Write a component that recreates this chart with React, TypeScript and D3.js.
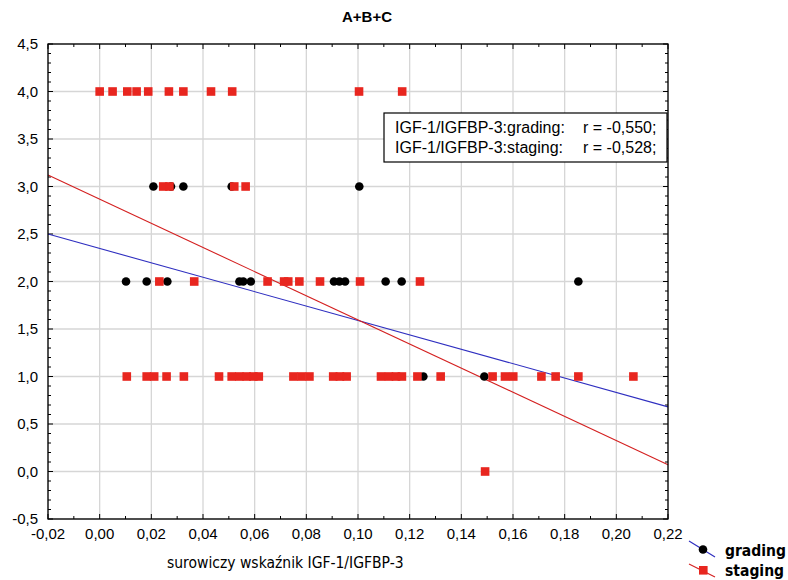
import React from "react";
import * as d3 from "d3";

const title = "A+B+C";
const xTitle = "surowiczy wskaźnik IGF-1/IGFBP-3";
const corrLabels = ["IGF-1/IGFBP-3:grading:", "IGF-1/IGFBP-3:staging:"];
const corrValues = ["r = -0,550;", "r = -0,528;"];
const seriesNames = ["grading", "staging"];

const xTicks = [-0.02, 0, 0.02, 0.04, 0.06, 0.08, 0.1, 0.12, 0.14, 0.16, 0.18, 0.2, 0.22];
const yTicks = [-0.5, 0, 0.5, 1, 1.5, 2, 2.5, 3, 3.5, 4, 4.5];

const gradingX = [
  0.0208, 0.0276, 0.0324, 0.0511, 0.1005,
  0.0102, 0.0182, 0.0262, 0.0541, 0.0556, 0.0585, 0.0907, 0.0928, 0.095, 0.1107, 0.1169, 0.1853,
  0.1253, 0.1489,
];
const gradingY = [
  3, 3, 3, 3, 3,
  2, 2, 2, 2, 2, 2, 2, 2, 2, 2, 2, 2,
  1, 1,
];

const stagingX = [
  0.0, 0.005, 0.0107, 0.0143, 0.0188, 0.0268, 0.0324, 0.0431, 0.0513, 0.1004, 0.1171,
  0.0246, 0.027, 0.0521, 0.0565,
  0.0231, 0.0366, 0.065, 0.0714, 0.073, 0.0773, 0.0853, 0.1008, 0.124,
  0.0105, 0.0182, 0.0211, 0.0259, 0.0326, 0.0462, 0.0511, 0.0541, 0.0569, 0.0595, 0.0616,
  0.075, 0.0781, 0.0812, 0.0904, 0.093, 0.0956, 0.1089, 0.112, 0.1147, 0.117, 0.123,
  0.132, 0.1521, 0.1569, 0.1601, 0.171, 0.1765, 0.1853, 0.2066,
  0.1492,
];
const stagingY = [
  4, 4, 4, 4, 4, 4, 4, 4, 4, 4, 4,
  3, 3, 3, 3,
  2, 2, 2, 2, 2, 2, 2, 2, 2,
  1, 1, 1, 1, 1, 1, 1, 1, 1, 1, 1,
  1, 1, 1, 1, 1, 1, 1, 1, 1, 1, 1,
  1, 1, 1, 1, 1, 1, 1, 1,
  0,
];

// regression lines: [intercept at x=0, slope]
const gradingFit = [2.348, -7.58];
const stagingFit = [2.866, -12.7];

const W = 788;
const H = 580;
const M = { left: 48, right: 668, top: 44, bottom: 519 };
const FONT = "'Liberation Sans', Arial, sans-serif";
const COND = "'DejaVu Sans Condensed', 'DejaVu Sans', sans-serif";
const RED = "#e8261f";

export default function App() {
  const x = d3.scaleLinear().domain([-0.02, 0.22]).range([M.left, M.right]);
  const y = d3.scaleLinear().domain([-0.5, 4.5]).range([M.bottom, M.top]);
  const fmt = (v: number, d: number) => d3.format(`.${d}f`)(v).replace(".", ",").replace("−", "-");

  const xMinor = d3.range(-0.02, 0.2201, 0.01);
  const yMinor = d3.range(-0.5, 4.501, 0.1);

  const fitLine = (fit: number[]) =>
    d3.line<number>()
      .x((d) => x(d))
      .y((d) => y(fit[0] + fit[1] * d))([-0.02, 0.22]) as string;

  return (
    <svg width={W} height={H} style={{ position: "absolute", left: 0, top: 0, background: "#fff" }}>
      <rect width={W} height={H} fill="#fff" />
      <text x={367} y={22} textAnchor="middle" fontFamily={FONT} fontWeight="bold" fontSize={15}>
        {title}
      </text>
      {/* grid */}
      {xTicks.map((t, i) => (
        <line key={"gx" + i} x1={x(t)} x2={x(t)} y1={M.top} y2={M.bottom} stroke="#d6d6d6" strokeWidth={1.3} />
      ))}
      {yTicks.map((t, i) => (
        <line key={"gy" + i} x1={M.left} x2={M.right} y1={y(t)} y2={y(t)} stroke="#d6d6d6" strokeWidth={1.3} />
      ))}
      {/* ticks */}
      {xMinor.map((t, i) => {
        const major = i % 2 === 0;
        const L = major ? 5 : 3;
        return (
          <g key={"xt" + i} stroke="#000" strokeWidth={1}>
            <line x1={x(t)} x2={x(t)} y1={M.bottom} y2={M.bottom - L} />
            <line x1={x(t)} x2={x(t)} y1={M.top} y2={M.top + L} />
          </g>
        );
      })}
      {yMinor.map((t, i) => {
        const major = i % 5 === 0;
        const L = major ? 5 : 3;
        return (
          <g key={"yt" + i} stroke="#000" strokeWidth={1}>
            <line x1={M.left} x2={M.left + L} y1={y(t)} y2={y(t)} />
            <line x1={M.right} x2={M.right - L} y1={y(t)} y2={y(t)} />
          </g>
        );
      })}
      {/* regression lines */}
      <path d={fitLine(gradingFit)} stroke="#2f2fc0" strokeWidth={1.1} fill="none" />
      <path d={fitLine(stagingFit)} stroke="#d42020" strokeWidth={1.1} fill="none" />
      {/* points */}
      {gradingX.map((v, i) => (
        <circle key={"g" + i} cx={x(v)} cy={y(gradingY[i])} r={4.3} fill="#000" />
      ))}
      {stagingX.map((v, i) => (
        <rect key={"s" + i} x={x(v) - 4.3} y={y(stagingY[i]) - 4.3} width={8.6} height={8.6} fill={RED} />
      ))}
      {/* frame */}
      <rect x={M.left} y={M.top} width={M.right - M.left} height={M.bottom - M.top} fill="none" stroke="#000" strokeWidth={1.3} />
      {/* tick labels */}
      {xTicks.map((t, i) => (
        <text key={"xl" + i} x={x(t)} y={539} textAnchor="middle" fontFamily={FONT} fontSize={15}>
          {fmt(t, 2)}
        </text>
      ))}
      {yTicks.map((t, i) => (
        <text key={"yl" + i} x={38} y={y(t) + 5} textAnchor="end" fontFamily={FONT} fontSize={15}>
          {fmt(t, 1)}
        </text>
      ))}
      <text x={167} y={568} fontFamily={COND} fontSize={15.5}>
        {xTitle}
      </text>
      {/* correlation box */}
      <rect x={384} y={113} width={283} height={49} fill="#fff" stroke="#000" strokeWidth={1.2} />
      {corrLabels.map((l, i) => (
        <g key={"c" + i}>
          <text x={395} y={133 + i * 20} fontFamily={FONT} fontSize={16}>{l}</text>
          <text x={583} y={133 + i * 20} fontFamily={FONT} fontSize={16}>{corrValues[i]}</text>
        </g>
      ))}
      {/* legend */}
      <line x1={689} y1={541} x2={715} y2={557} stroke="#2f2fc0" strokeWidth={1.1} />
      <circle cx={703} cy={549.5} r={4.3} fill="#000" />
      <text x={725} y={556} fontFamily={COND} fontWeight="bold" fontSize={15.5}>{seriesNames[0]}</text>
      <line x1={689} y1={564} x2={715} y2={577} stroke="#d42020" strokeWidth={1.1} />
      <rect x={699} y={566} width={8.6} height={8.6} fill={RED} />
      <text x={725} y={576} fontFamily={COND} fontWeight="bold" fontSize={15.5}>{seriesNames[1]}</text>
    </svg>
  );
}
